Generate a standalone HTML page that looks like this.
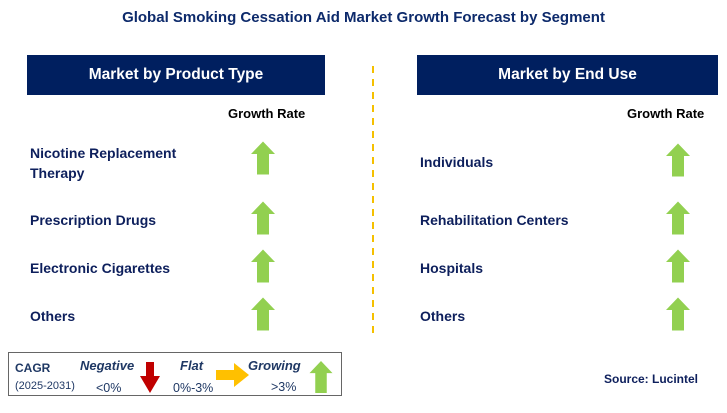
<!DOCTYPE html>
<html><head><meta charset="utf-8">
<style>
body{margin:0;width:727px;height:413px;background:#fff;font-family:"Liberation Sans",sans-serif;position:relative;overflow:hidden}
.abs{position:absolute}
.title{left:0;width:727px;top:9px;text-align:center;font-weight:bold;font-size:15px;color:#0d2a6b}
.hdr{background:#001f5f;color:#fff;font-weight:bold;font-size:15.5px;text-align:center;line-height:40px;height:40px;top:55px}
.gr{font-family:"Liberation Sans",sans-serif;font-size:13px;font-weight:bold;color:#000;top:106px}
.lbl{font-weight:bold;font-size:14px;color:#0d1f5c;line-height:20px}
</style></head><body>
<div class="abs title">Global Smoking Cessation Aid Market Growth Forecast by Segment</div>
<div class="abs hdr" style="left:27px;width:298px">Market by Product Type</div>
<div class="abs hdr" style="left:417px;width:301px">Market by End Use</div>
<svg class="abs" style="left:370px;top:66px" width="6" height="270"><line x1="3" y1="0" x2="3" y2="270" stroke="#f5c000" stroke-width="2" stroke-dasharray="7,6"/></svg>
<div class="abs gr" style="left:228px">Growth Rate</div>
<div class="abs gr" style="left:627px">Growth Rate</div>

<div class="abs lbl" style="left:30px;top:143px">Nicotine Replacement<br>Therapy</div>
<div class="abs lbl" style="left:30px;top:210px">Prescription Drugs</div>
<div class="abs lbl" style="left:30px;top:258px">Electronic Cigarettes</div>
<div class="abs lbl" style="left:30px;top:306px">Others</div>
<div class="abs lbl" style="left:420px;top:152px">Individuals</div>
<div class="abs lbl" style="left:420px;top:210px">Rehabilitation Centers</div>
<div class="abs lbl" style="left:420px;top:258px">Hospitals</div>
<div class="abs lbl" style="left:420px;top:306px">Others</div>

<svg class="abs" style="left:0;top:0" width="727" height="413" id="arrows">
<g id="arrowg"></g>
</svg>

<div class="abs" style="left:8px;top:352px;width:334px;height:44px;border:1px solid #666;box-sizing:border-box"></div>
<div class="abs" style="left:15px;top:361px;font-weight:bold;font-size:12px;color:#1f3864">CAGR</div>
<div class="abs" style="left:15px;top:380px;font-size:11px;color:#1f3864">(2025-2031)</div>
<div class="abs" style="left:80px;top:358px;font-weight:bold;font-style:italic;font-size:13px;color:#1f3864">Negative</div>
<div class="abs" style="left:96px;top:381px;font-size:12.5px;color:#1f3864">&lt;0%</div>
<div class="abs" style="left:180px;top:358px;font-weight:bold;font-style:italic;font-size:13px;color:#1f3864">Flat</div>
<div class="abs" style="left:173px;top:381px;font-size:12.5px;color:#1f3864">0%-3%</div>
<div class="abs" style="left:248px;top:358px;font-weight:bold;font-style:italic;font-size:13px;color:#1f3864">Growing</div>
<div class="abs" style="left:271px;top:380px;font-size:12.5px;color:#1f3864">&gt;3%</div>
<div class="abs" style="left:604px;top:372px;font-weight:bold;font-size:12px;color:#0d1f5c">Source: Lucintel</div>

<script>
const leftRows=[158,218,266,314];
const rightRows=[160,218,266,314];
const g=document.getElementById('arrowg');
function up(cx,cy,w,h,color,name){
  const p=document.createElementNS('http://www.w3.org/2000/svg','polygon');
  const hw=w/2, sw=w/4, hh=h*0.38, t=cy-h/2, b=cy+h/2;
  p.setAttribute('points',`${cx},${t} ${cx+hw},${t+hh} ${cx+sw},${t+hh} ${cx+sw},${b} ${cx-sw},${b} ${cx-sw},${t+hh} ${cx-hw},${t+hh}`);
  p.setAttribute('fill',color);
  
  
  g.appendChild(p);
}
leftRows.forEach((y,i)=>up(263,y,24,33,'#92d050','growth-arrow-left-'+i));
rightRows.forEach((y,i)=>up(678,y,24,33,'#92d050','growth-arrow-right-'+i));
up(321,377,23,32,'#92d050','legend-growing-arrow');
const d=document.createElementNS('http://www.w3.org/2000/svg','polygon');
d.setAttribute('points','146,362 154,362 154,376 160,376 150,393 140,376 146,376');
d.setAttribute('fill','#c00000');


g.appendChild(d);
const r=document.createElementNS('http://www.w3.org/2000/svg','polygon');
r.setAttribute('points','216,370 234,370 234,363 249,375 234,387 234,380 216,380');
r.setAttribute('fill','#ffc000');


g.appendChild(r);
</script>
</body></html>
